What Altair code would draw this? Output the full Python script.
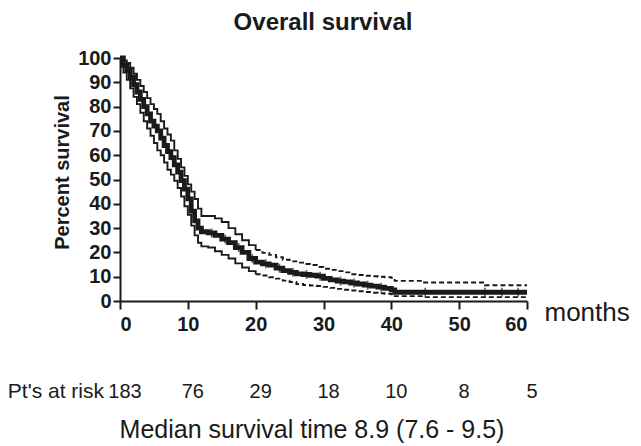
import altair as alt
import pandas as pd
import numpy as np

# ---- data ----
main_t = [0, 0.5, 1, 1.5, 2, 2.5, 3, 3.5, 4, 4.5, 5, 5.5, 6, 6.5, 7, 7.5, 8, 8.5, 9, 9.5,
          10, 10.5, 11, 11.5, 12, 13, 14, 15, 16, 17, 18, 19, 20, 21, 22, 23, 24, 25, 26,
          27, 28, 29, 30, 31, 32, 33, 34, 35, 36, 37, 38, 39, 40, 40.5, 60]
main_s = [100, 97, 95, 92, 89, 86, 83, 80, 77, 74, 72, 70, 67, 64, 61.5, 59, 56, 53, 49.5, 46,
          42, 37, 33, 30, 28.5, 28, 27, 25.5, 24, 22, 20, 17.5, 16, 15.3, 14.8, 13.5, 12.5, 11.8,
          11.2, 10.9, 10.6, 10.2, 9.3, 8.7, 8.2, 7.9, 7.4, 7, 6.5, 6.1, 5.7, 5.2, 4.6, 3.6, 3.6]

ci_t = [0, 0.5, 1, 1.5, 2, 2.5, 3, 3.5, 4, 4.5, 5, 5.5, 6, 6.5, 7, 7.5, 8, 8.5, 9, 9.5,
        10, 10.5, 11, 11.5, 12, 13, 14, 15, 16, 17, 18, 19, 20, 21, 22, 23, 24, 25, 26,
        27, 28, 29, 30, 31, 32, 33, 34, 35, 36, 37, 38, 39, 40, 40.5, 44.5, 53.8, 60]
upper_s = [100, 99, 98, 96, 93.5, 91, 88.5, 86, 83.5, 81, 79, 77, 74, 71, 68.5, 66, 62, 58.5, 55, 51.5,
           48, 45, 42, 38, 35, 35, 34, 32.5, 30, 27.5, 25, 23, 21, 19.8, 19, 18, 17, 16.3, 15.8,
           15.2, 14.8, 14, 13.3, 12.8, 12.3, 11.8, 11, 10.7, 10.4, 10.2, 10, 9.8, 9.5, 8.3, 7.6, 6.5, 6.5]
lower_s = [100, 94, 91, 87.5, 84, 81, 77.5, 74, 71, 68, 65, 62, 60, 57, 54, 52, 49.5, 46.5, 43, 39,
           35.5, 31, 27, 24, 22.5, 22, 20.5, 19, 17.5, 15.5, 13.8, 12.3, 11, 10.5, 9.8, 9.2, 8.4, 7.8, 7,
           6.6, 6.4, 6.2, 5.8, 5.4, 5, 4.6, 4.3, 4, 3.7, 3.4, 3.2, 3, 2.8, 2.0, 1.6, 1.6, 1.6]

censor_t = [13.5, 15.5, 17.5, 19.5, 21.5, 23.5, 25.5, 27.5, 29.5, 32.5, 34.5, 36.5, 38.5,
            45, 53.8, 56.3, 58.7]

risk_months = [0, 10, 20, 30, 40, 50, 60]
risk_counts = ["183", "76", "29", "18", "10", "8", "5"]

x_ticks = [0, 10, 20, 30, 40, 50, 60]
y_ticks = [0, 10, 20, 30, 40, 50, 60, 70, 80, 90, 100]

DASH_FROM = 20

# ---- tables ----
main_df = pd.DataFrame({"t": main_t, "S": main_s})

rows = []
for name, vals in (("upper", upper_s), ("lower", lower_s)):
    for t, s in zip(ci_t, vals):
        if t <= DASH_FROM:
            rows.append({"t": t, "S": s, "key": name + "_solid", "part": "solid"})
        if t >= DASH_FROM:
            rows.append({"t": t, "S": s, "key": name + "_dash", "part": "dashed"})
ci_df = pd.DataFrame(rows)

idx = np.searchsorted(np.array(main_t), np.array(censor_t), side="right") - 1
cens_df = pd.DataFrame({"t": censor_t, "S": [main_s[i] for i in idx]})

risk_df = pd.DataFrame({"t": risk_months, "n": risk_counts})

FONT = "Liberation Sans"
INK = "#1a1a1a"
H = 243

xscale = alt.Scale(domain=[0, 60], nice=False, zero=True)
yscale = alt.Scale(domain=[0, 100], nice=False)

x_axis = alt.Axis(values=x_ticks, title="months", grid=False, domainColor=INK, domainWidth=2,
                  tickColor=INK, tickWidth=2, tickSize=8, labelPadding=5, labelOverlap=False,
                  labelFont=FONT, labelFontSize=20, labelFontWeight="bold", labelColor=INK,
                  titleFont=FONT, titleFontSize=26, titleFontWeight="normal", titleColor=INK,
                  titleX=424, titleY=11, titleAlign="left", titleBaseline="middle", titleAngle=0)
y_axis = alt.Axis(values=y_ticks, tickCount=11, title="Percent survival", grid=False,
                  domainColor=INK, domainWidth=2,
                  tickColor=INK, tickWidth=2, tickSize=7, labelPadding=2, labelOverlap=False,
                  labelFont=FONT, labelFontSize=20, labelFontWeight="bold", labelColor=INK,
                  titleFont=FONT, titleFontSize=20, titleFontWeight="bold", titleColor=INK,
                  titleAngle=270, titleX=-58, titleY=114, titleAlign="center", titleBaseline="middle")

X = alt.X("t:Q", scale=xscale, axis=x_axis)
Y = alt.Y("S:Q", scale=yscale, axis=y_axis)

main_line = alt.Chart(main_df).mark_line(interpolate="step-after", color=INK, strokeWidth=4.8).encode(
    x=X, y=Y,
)

ci_lines = alt.Chart(ci_df).mark_line(interpolate="step-after", color=INK, strokeWidth=1.9).encode(
    x=X, y=Y,
    detail="key:N",
    strokeDash=alt.StrokeDash("part:N", scale=alt.Scale(domain=["solid", "dashed"], range=[[1, 0], [5, 3]]),
                              legend=None),
)

cens = alt.Chart(cens_df).mark_tick(orient="vertical", color=INK, size=9, thickness=1.6).encode(
    x=X, y=Y,
)

risk = alt.Chart(risk_df).mark_text(font=FONT, fontSize=20, color=INK, align="center",
                                    baseline="middle", dx=5).encode(
    x=X,
    y=alt.value(H + 91),
    text="n:N",
)

risk_label = alt.Chart(pd.DataFrame({"txt": ["Pt's at risk"]})).mark_text(
    font=FONT, fontSize=21, color=INK, align="right", baseline="middle").encode(
    x=alt.value(-16), y=alt.value(H + 91), text="txt:N")

median_label = alt.Chart(pd.DataFrame({"txt": ["Median survival time 8.9 (7.6 - 9.5)"]})).mark_text(
    font=FONT, fontSize=25, color=INK, align="center", baseline="alphabetic").encode(
    x=alt.value(192), y=alt.value(H + 137), text="txt:N")

title_label = alt.Chart(pd.DataFrame({"txt": ["Overall survival"]})).mark_text(
    font=FONT, fontSize=24, fontWeight="bold", color=INK, align="center", baseline="alphabetic").encode(
    x=alt.value(203), y=alt.value(-28), text="txt:N")

chart = alt.layer(main_line, ci_lines, cens, risk, risk_label, median_label, title_label).properties(
    width=407, height=H,
    autosize=alt.AutoSizeParams(type="none"),
    padding={"left": 112, "top": 50, "right": 106, "bottom": 145},
    background="white",
).configure_view(stroke=None)

chart.save("out.html", embed_options={"renderer": "svg", "actions": False})
